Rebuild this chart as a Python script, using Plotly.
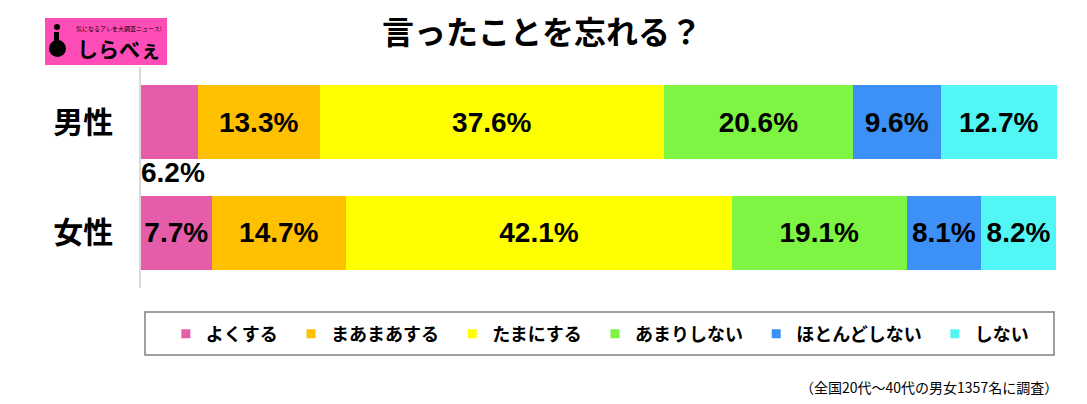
import plotly.graph_objects as go

W, H = 1087, 404

# data
groups = ["男性", "女性"]
answers = ["よくする", "まあまあする", "たまにする", "あまりしない", "ほとんどしない", "しない"]
colors = ["#E55DA8", "#FFC000", "#FFFF00", "#7EF542", "#3D90F5", "#52F7F5"]
men = [6.2, 13.3, 37.6, 20.6, 9.6, 12.7]
women = [7.7, 14.7, 42.1, 19.1, 8.1, 8.2]


def px(x):
    return x / W


def py(y):
    return 1 - y / H


jp = "Noto Sans CJK JP"
num_font = "Arial, Liberation Sans, sans-serif"

fig = go.Figure()

small = []  # labels that do not fit inside their bar
for i, ans in enumerate(answers):
    vals = [men[i], women[i]]
    texts = []
    for g, v in zip(groups, vals):
        if v < 7:
            texts.append("")
            small.append((g, v))
        else:
            texts.append(f"<b>{v:.1f}%</b>")
    fig.add_trace(go.Bar(
        name=ans,
        y=groups,
        x=vals,
        orientation="h",
        marker=dict(color=colors[i], line=dict(width=0)),
        width=0.67,
        text=texts,
        texttemplate="%{text}",
        textposition="inside",
        insidetextanchor="middle",
        textangle=0,
        constraintext="none",
        textfont=dict(family=num_font, size=28, color="black"),
        hoverinfo="skip",
        showlegend=False,
    ))
    # legend entry with a small square key
    fig.add_trace(go.Scatter(
        name=ans + "\u00a0\u00a0",
        x=[None], y=[None],
        mode="markers",
        marker=dict(symbol="square", size=9, color=colors[i]),
        showlegend=True,
        hoverinfo="skip",
    ))

# small values shown under the bar start
for g, v in small:
    fig.add_annotation(
        x=0, y=g, xref="x", yref="y",
        text=f"<b>{v:.1f}%</b>", showarrow=False,
        xanchor="left", yanchor="middle", yshift=-50, xshift=-2,
        font=dict(family=num_font, size=28, color="black"),
    )

fig.update_layout(
    barmode="stack",
    width=W, height=H,
    margin=dict(l=0, r=0, t=0, b=0),
    plot_bgcolor="white",
    paper_bgcolor="white",
    xaxis=dict(domain=[px(141), px(1057)], range=[0, 100],
               showgrid=False, zeroline=False, showticklabels=False, showline=False),
    yaxis=dict(domain=[py(288), py(67)], range=[1.5, -0.5],
               showgrid=False, zeroline=False, showline=True,
               linecolor="#D9D9D9", linewidth=1.5, ticks="",
               ticklabelstandoff=20,
               tickfont=dict(family=jp, size=30, color="black", weight="bold")),
    showlegend=True,
    legend=dict(orientation="h", x=0.556, xanchor="center",
                y=py(334), yanchor="middle",
                font=dict(family=jp, size=18, color="black", weight="bold"),
                bgcolor="rgba(0,0,0,0)", itemwidth=30, traceorder="normal"),
)

# legend frame
fig.add_shape(type="rect", xref="paper", yref="paper",
              x0=px(145), x1=px(1054), y0=py(355), y1=py(312),
              line=dict(color="#808080", width=1.5), fillcolor="rgba(0,0,0,0)")

# title
fig.add_annotation(
    x=px(542), y=py(30), xref="paper", yref="paper",
    text="<b>言ったことを忘れる？</b>", showarrow=False,
    font=dict(family=jp, size=32, color="black"),
    xanchor="center", yanchor="middle",
)

# footnote
fig.add_annotation(
    x=px(1060), y=py(387), xref="paper", yref="paper",
    text="（全国20代～40代の男女1357名に調査）", showarrow=False,
    font=dict(family=jp, size=14, color="black"),
    xanchor="right", yanchor="middle",
)

# logo
fig.add_shape(type="rect", xref="paper", yref="paper",
              x0=px(45), x1=px(167), y0=py(65), y1=py(18),
              line=dict(width=0), fillcolor="#FF4DB8", layer="below")
fig.add_shape(type="circle", xref="paper", yref="paper",
              x0=px(54), x1=px(60), y0=py(30), y1=py(24),
              line=dict(width=0), fillcolor="black")
fig.add_shape(type="circle", xref="paper", yref="paper",
              x0=px(49), x1=px(66), y0=py(57), y1=py(40),
              line=dict(width=0), fillcolor="black")
fig.add_shape(type="rect", xref="paper", yref="paper",
              x0=px(54), x1=px(59), y0=py(45), y1=py(32),
              line=dict(width=0), fillcolor="black")
fig.add_annotation(
    x=px(119), y=py(48), xref="paper", yref="paper",
    text="<b>しらべぇ</b>", showarrow=False,
    font=dict(family=jp, size=21, color="black"),
    xanchor="center", yanchor="middle",
)
fig.add_annotation(
    x=px(119), y=py(28), xref="paper", yref="paper",
    text="気になるアレを大調査ニュース!", showarrow=False,
    font=dict(family=jp, size=6, color="black"),
    xanchor="center", yanchor="middle",
)

fig.write_html("out.html", config={"displayModeBar": False},
               post_script="document.body.style.margin='0';")
